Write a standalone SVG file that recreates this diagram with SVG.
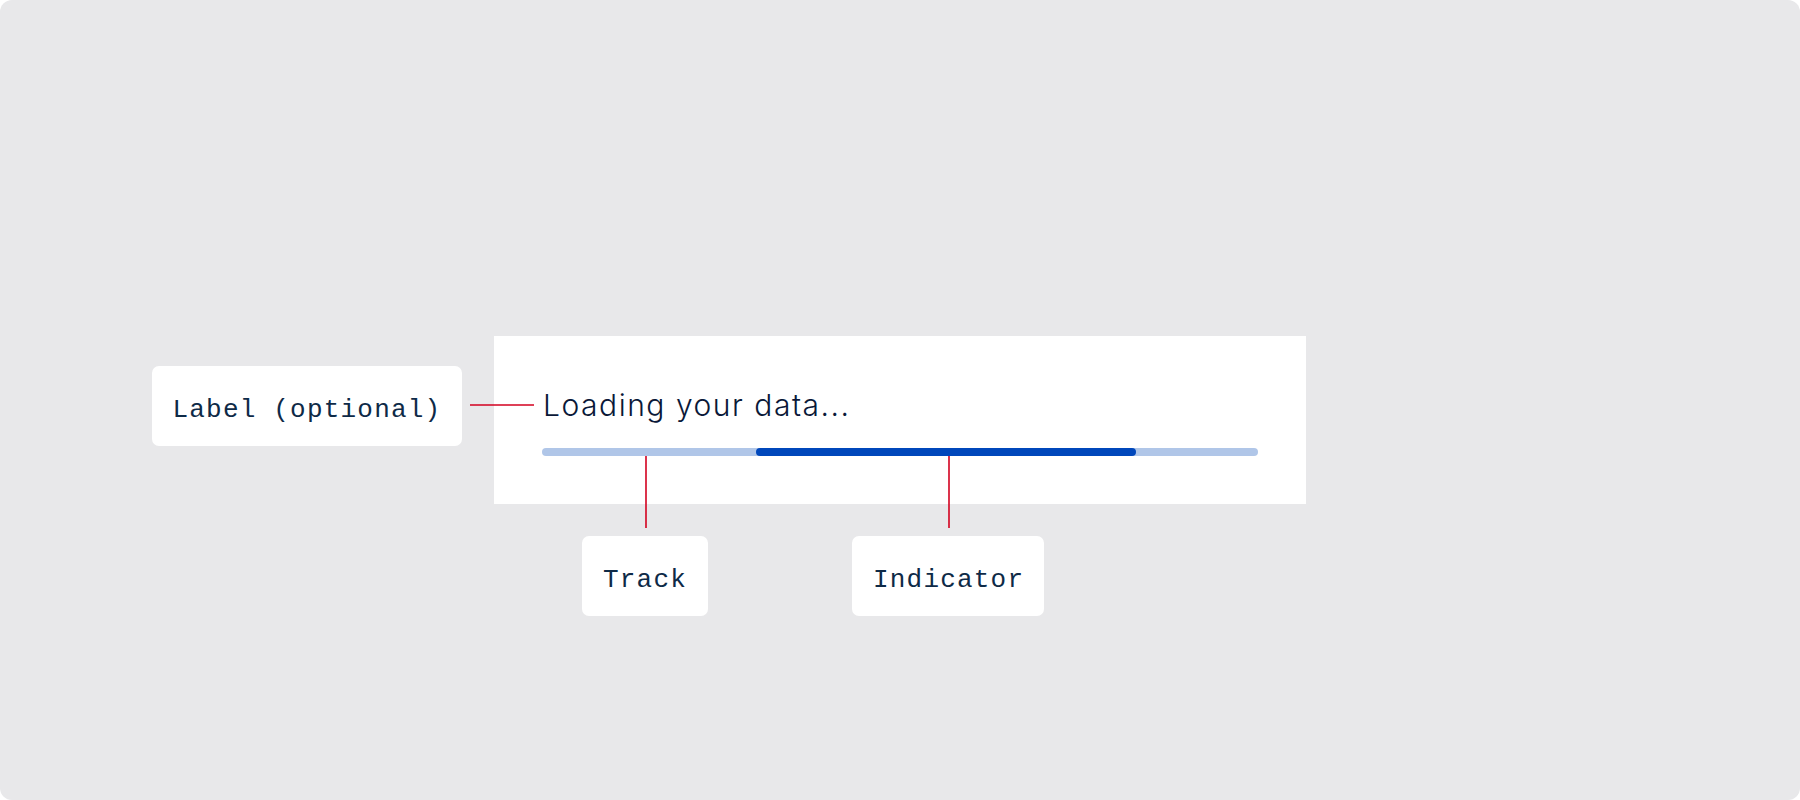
<svg xmlns="http://www.w3.org/2000/svg" width="1800" height="800" viewBox="0 0 1800 800">
<style>
.box{fill:#ffffff}
.mono{font-family:"Liberation Mono","DejaVu Sans Mono",monospace;font-size:26px;letter-spacing:1.2px;fill:#0e2a47}
.lead{stroke:#d3001f;stroke-width:1.6;fill:none}
</style>
<rect x="0" y="0" width="1800" height="800" rx="12" fill="#e8e8ea"/>
<g id="component">
<rect x="494" y="336" width="812" height="168" fill="#ffffff"/>
<text x="543" y="415.5" font-family="Inter,Lato,'Noto Sans',sans-serif" font-weight="300" font-size="30" fill="#0a1838" textLength="306" lengthAdjust="spacing">Loading your data...</text>
<rect id="track" x="542" y="448" width="716" height="8" rx="4" fill="#b0c6e8"/>
<rect id="indicator" x="756" y="448" width="380" height="8" rx="4" fill="#0047bb"/>
</g>
<g id="connectors">
<line class="lead" x1="470" y1="405" x2="534" y2="405"/>
<line class="lead" x1="646" y1="456" x2="646" y2="528"/>
<line class="lead" x1="949" y1="456" x2="949" y2="528"/>
</g>
<g id="label-optional">
<rect class="box" x="152" y="366" width="310" height="80" rx="7"/>
<text class="mono" x="172.5" y="416.5">Label (optional)</text>
</g>
<g id="label-track">
<rect class="box" x="582" y="536" width="126" height="80" rx="7"/>
<text class="mono" x="603" y="586.5">Track</text>
</g>
<g id="label-indicator">
<rect class="box" x="852" y="536" width="192" height="80" rx="7"/>
<text class="mono" x="873" y="586.5">Indicator</text>
</g>
</svg>
